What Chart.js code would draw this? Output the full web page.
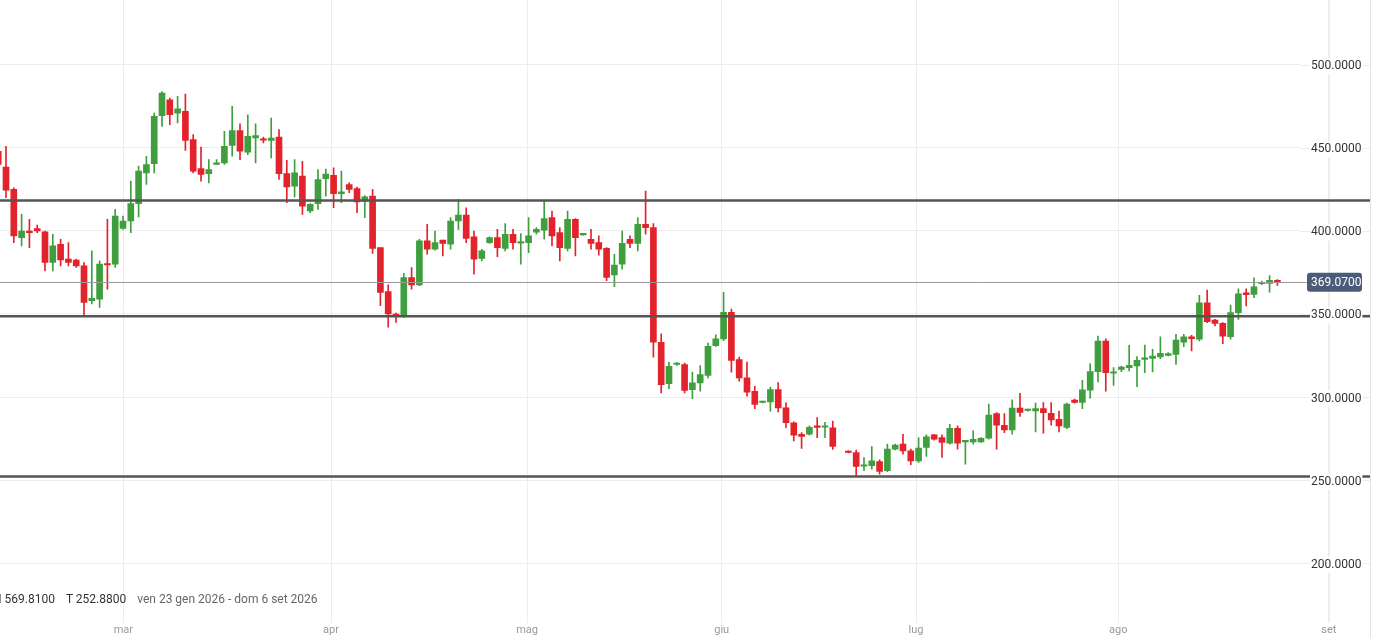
<!DOCTYPE html>
<html lang="it">
<head>
<meta charset="utf-8">
<title>Grafico a candele</title>
<script src="https://cdn.jsdelivr.net/npm/chart.js@4.4.1/dist/chart.umd.min.js"></script>
<style>
  html, body { margin: 0; padding: 0; background: #fff; }
  #wrap { position: relative; width: 1376px; height: 638px; overflow: hidden; }
  #info { position: absolute; left: -7px; top: 592px; font: 12px Roboto, sans-serif; color: #333; white-space: nowrap; }
  #info span { margin-right: 11px; }
  #info .range { color: #666; }
</style>
</head>
<body>
<div id="wrap">
  <canvas id="chart"></canvas>
  <div id="info"><span>H 569.8100</span><span>T 252.8800</span><span class="range">ven 23 gen 2026 - dom 6 set 2026</span></div>
</div>
<script>
// valori (una candela al giorno, null = giorno mancante)
const openP = [448, 438.5, 425, 396, 399.5, 401.5, 399.5, 381, 392, 383, 382.5, 379, 358, 359, 380, 380, 401.5, 406, 416.5, 435,
  440.5, 469.5, 479, 471, 472, 455, 437.5, 434.5, 440, 441, 451.5, 460.5, 447.5, 456, 455.3, 454.5, 456.5, 434.5, 427, 433,
  412, 416.5, 431.5, 433.5, 422.5, 428, 425.5, 418, 421, 390, 363.5, 350, 348.5, 372, 367.5, 394, 389, 394.5, 392, 406,
  409.5, 396.5, 383.5, 393, 396, 389.5, 398, 392.7, 393, 399.2, 400.5, 408, 399, 389.5, 407, 397.6, 395, 393, 389.5, 373.5,
  380, 395, 392.5, 404, 402, 333, 308, 319.6, 319.5, 304.5, 308.5, 313, 331, 335, 351, 322.5, 311.5, 303.5, 296.7, 297,
  304.5, 293.5, 284.5, 277.5, 277.6, 282.3, 281.8, 281.5, null, 267.2, 266.5, 258.3, 258.6, 261.2, 255.6, 268.6, 271.6, 267.6, 261.6, 269.6,
  277.2, 275.6, 272.2, 281.2, 273, 273, 273, 275.2, 290, 283, 280.2, 293.3, 291.9, 291.6, 293, 290.2, 286.6, 281.7, 298.1, 296.7,
  304.1, 315.3, 333.7, 314.3, 316.7, 317.7, 318.7, 322.7, 323.3, 324.1, 325.1, 325.7, 333.1, 336.3, 334.8, 356.8, 346.4, 344.4, 336.3, 350.8,
  362.8, 361.8, 368.2, 368.4, 370.2];
const highP = [451, 451, 426, 410, 407, 403.5, 400, 398, 395, 393, 383, 381, 388, 382, 407, 413, 409, 430, 439, 445,
  471, 484, 480, 481, 482.5, 458, 450.5, 443, 443, 460, 475, 464.5, 470, 464.5, 456.5, 468, 461, 442.5, 443, 442,
  416.5, 437, 437.3, 438, 436, 429, 426.5, 421.3, 425, 390, 367.5, 350.5, 374.5, 378, 395, 404, 400, 394.5, 408, 419,
  414, 400, 389, 396.5, 401, 404.5, 401, 398.5, 408, 402, 418, 412, 402, 412, 407.5, 398.3, 401, 397, 390, 386,
  400, 397, 408, 424, 404.5, 338, 321, 320.8, 320.5, 315, 319, 332.5, 337.5, 363, 353, 324, 321, 306.5, 297.6, 306,
  308.7, 296.5, 285, 278.6, 282.6, 287.7, 284.7, 285.5, null, 267.6, 268, 263.6, 270.2, 262.2, 271.6, 271.6, 277.6, 268.6, 275.6, 277.2,
  277.6, 277.2, 283.6, 282.6, 274, 279.6, 275.6, 295.7, 290.6, 290, 298.3, 302.3, 292.8, 296.3, 296.7, 296.7, 291.6, 296.3, 298.7, 310.1,
  320.1, 336.7, 335.1, 317.7, 318.7, 331.1, 324.3, 331.3, 328.7, 336.3, 326.7, 337.7, 337.7, 337.1, 361.2, 364.4, 346.8, 344.8, 355.3, 365.2,
  365.2, 371.8, 369.8, 373.2, 370.8];
const lowP = [438, 420, 393, 391, 390, 399, 376, 376, 379, 379, 378, 349, 356, 354, 365, 378, 401, 399, 408.5, 428,
  435, 463, 464, 465, 448.5, 435, 430, 429, 440, 440, 445, 443, 446, 441, 453, 444, 431, 417, 420.5, 410,
  411, 413, 421, 414, 417, 423, 411, 408, 386.5, 355, 342, 345, 348, 365, 367, 386, 388.5, 385, 389, 401,
  393, 374, 382, 392.5, 384.5, 388, 389, 380, 387, 398, 395, 391, 382, 388, 385, 397.4, 389, 385.5, 370, 366.5,
  377, 390, 388, 398, 324, 302.5, 305, 319, 302.5, 299, 303.5, 311.5, 330.5, 334, 315, 309.5, 300.5, 293, 296.4, 291.5,
  291, 281.5, 273.5, 269, 277, 275.5, 275.6, 268.5, null, 266.3, 252.88, 255.6, 256.6, 253.6, 255, 268.2, 265.6, 259.2, 260.6, 264.2,
  274, 263.6, 271.6, 268.6, 259.6, 271.6, 272.6, 274.6, 268.6, 278.6, 277.6, 288.3, 291.5, 279, 278.2, 283, 279, 281, 296.3, 293,
  299.3, 309.1, 303.6, 307, 315.3, 315.7, 306.3, 314.7, 315.1, 323.1, 324.7, 319.7, 330.3, 327.7, 333.8, 344.8, 342.8, 332.1, 334.8, 346.8,
  354.8, 359.8, 367.6, 363.2, 367.2];
const closeP = [440, 424.5, 397, 400, 399, 400, 381, 391, 382.5, 381, 379, 357, 359.5, 380, 379.5, 409, 406, 416.5, 436, 440,
  469, 483, 470, 473.5, 454.5, 436, 434, 437, 441, 451, 460.5, 448, 457, 457.5, 454.6, 456, 434.5, 426.5, 435, 415,
  416, 431, 434.3, 422.5, 423.5, 425, 417.5, 420.5, 389.5, 363, 350, 349, 372, 367.5, 394, 389, 393, 392.5, 406, 409.5,
  395.5, 383, 388, 396, 390, 398, 393, 393.3, 397, 401, 407.5, 397, 390, 407, 396, 398, 392.5, 389, 372, 379.5,
  392.5, 392.5, 404, 402, 333, 307.5, 318.5, 320.2, 304, 308.5, 313.5, 330.5, 335, 351, 322, 311.5, 303, 295.5, 297.3, 304.5,
  293.5, 284.5, 277, 276.3, 281.7, 281.7, 282.3, 270.3, null, 266.6, 258.2, 259, 261.6, 255.2, 268.6, 271, 267.6, 261.6, 269.2, 276,
  274.6, 272.6, 281.2, 272.2, 273.6, 274.6, 275.2, 289.2, 283, 280.2, 293.3, 290.7, 292.4, 293, 290.6, 286.2, 282.6, 295.7, 296.7, 304.3,
  315.3, 333.7, 314.7, 315.1, 318.1, 319.1, 322.1, 323.3, 324.7, 326.3, 326.1, 334.3, 336.3, 335.1, 356.8, 345.4, 344.4, 336.7, 350.8, 362.2,
  361.6, 366.4, 368.8, 370.2, 369.07];

const monthLabels = ['mar', 'apr', 'mag', 'giu', 'lug', 'ago', 'set'];
const monthPos = [16.04, 42.67, 67.8, 92.76, 117.67, 143.6, 170.6];
const yTicks = [200, 250, 300, 350, 400, 450, 500];
const levels = [418.3, 348.7, 252.2];

const UP = '#3f9f3f';
const DOWN = '#e3232b';
const GRID = '#ededed';
const FONT = 'Roboto, sans-serif';

const wickData = [];
const bodyData = [];
openP.forEach(function (o, i) {
    if (o === null) return;
    wickData.push({ x: i, y: [lowP[i], highP[i]] });
    bodyData.push({ x: i, y: [o, closeP[i]] });
});

function candleColor(ctx) {
    if (!ctx.raw) return UP;
    const i = ctx.raw.x;
    return closeP[i] >= openP[i] ? UP : DOWN;
}

// griglia sotto le etichette, linee orizzontali, linea del prezzo e etichetta
const overlay = {
    id: 'overlay',
    beforeDatasetsDraw(chart) {
        const { ctx, chartArea, scales: { x, y } } = chart;
        const edge = chart.width - 6;
        ctx.save();
        ctx.strokeStyle = GRID;
        ctx.lineWidth = 1;
        x.ticks.forEach(function (t) {
            const px = Math.round(x.getPixelForValue(t.value)) + 0.5;
            if (px <= chartArea.right) return;
            ctx.beginPath();
            ctx.moveTo(px, chartArea.top);
            ctx.lineTo(px, chartArea.bottom);
            ctx.stroke();
        });
        y.ticks.forEach(function (t) {
            const py = Math.round(y.getPixelForValue(t.value)) + 0.5;
            ctx.beginPath();
            ctx.moveTo(chartArea.right, py);
            ctx.lineTo(edge, py);
            ctx.stroke();
        });
        ctx.strokeStyle = '#e2e2e2';
        ctx.beginPath();
        ctx.moveTo(edge + 0.5, chartArea.top);
        ctx.lineTo(edge + 0.5, chart.height);
        ctx.stroke();
        ctx.restore();
    },
    afterDatasetsDraw(chart) {
        const { ctx, chartArea, scales: { y } } = chart;
        ctx.save();
        const last = closeP[closeP.length - 1];
        const py = Math.round(y.getPixelForValue(last)) + 0.5;
        ctx.strokeStyle = '#9a9a9a';
        ctx.lineWidth = 1;
        ctx.beginPath();
        ctx.moveTo(chartArea.left, py);
        ctx.lineTo(y.left + 7, py);
        ctx.stroke();

        ctx.strokeStyle = '#555';
        ctx.lineWidth = 2.5;
        levels.forEach(function (v) {
            const ly = y.getPixelForValue(v);
            ctx.beginPath();
            ctx.moveTo(0, ly);
            ctx.lineTo(chart.width - 6, ly);
            ctx.stroke();
        });
        ctx.restore();
    },
    afterDraw(chart) {
        const { ctx, scales: { y } } = chart;
        const last = closeP[closeP.length - 1];
        const py = y.getPixelForValue(last);
        ctx.save();
        ctx.fillStyle = '#4b5b78';
        ctx.beginPath();
        ctx.roundRect(y.left + 7, py - 9.5, 55, 19, 3);
        ctx.fill();
        ctx.fillStyle = '#fff';
        ctx.font = '12px ' + FONT;
        ctx.textBaseline = 'middle';
        ctx.textAlign = 'left';
        ctx.fillText(last.toFixed(4), y.left + 11, py + 1);
        ctx.restore();
    }
};

const chart = new Chart(document.getElementById('chart'), {
    type: 'bar',
    data: {
        datasets: [{
            label: 'wick',
            data: wickData,
            backgroundColor: candleColor,
            barThickness: 1,
            grouped: false
        }, {
            label: 'body',
            data: bodyData,
            backgroundColor: candleColor,
            barThickness: 6,
            minBarLength: 1.5,
            grouped: false
        }]
    },
    options: {
        responsive: true,
        maintainAspectRatio: false,
        animation: false,
        layout: { padding: 0 },
        plugins: {
            legend: { display: false },
            tooltip: { enabled: false }
        },
        scales: {
            x: {
                type: 'linear',
                offset: false,
                min: 0.23,
                max: 166.9,
                afterBuildTicks: function (s) { s.ticks = monthPos.map(function (v) { return { value: v }; }); },
                grid: { color: GRID, drawTicks: false, offset: false },
                border: { display: false },
                ticks: {
                    autoSkip: false,
                    maxRotation: 0,
                    padding: 1,
                    color: '#999',
                    font: { size: 11, family: FONT },
                    callback: function (v, i) { return monthLabels[i]; }
                }
            },
            y: {
                type: 'linear',
                position: 'right',
                min: 164.05,
                max: 539.08,
                afterBuildTicks: function (s) { s.ticks = yTicks.map(function (v) { return { value: v }; }); },
                afterFit: function (s) { s.width = 76; s.paddingTop = 0; s.paddingBottom = 0; },
                grid: { color: GRID, drawTicks: false },
                border: { display: false },
                ticks: {
                    z: 1,
                    padding: 11,
                    labelOffset: 1.5,
                    color: '#333',
                    font: { size: 12, family: FONT },
                    showLabelBackdrop: true,
                    backdropColor: '#fff',
                    backdropPadding: 1,
                    callback: function (v) { return Number(v).toFixed(4); }
                }
            }
        }
    },
    plugins: [overlay]
});
</script>
</body>
</html>
